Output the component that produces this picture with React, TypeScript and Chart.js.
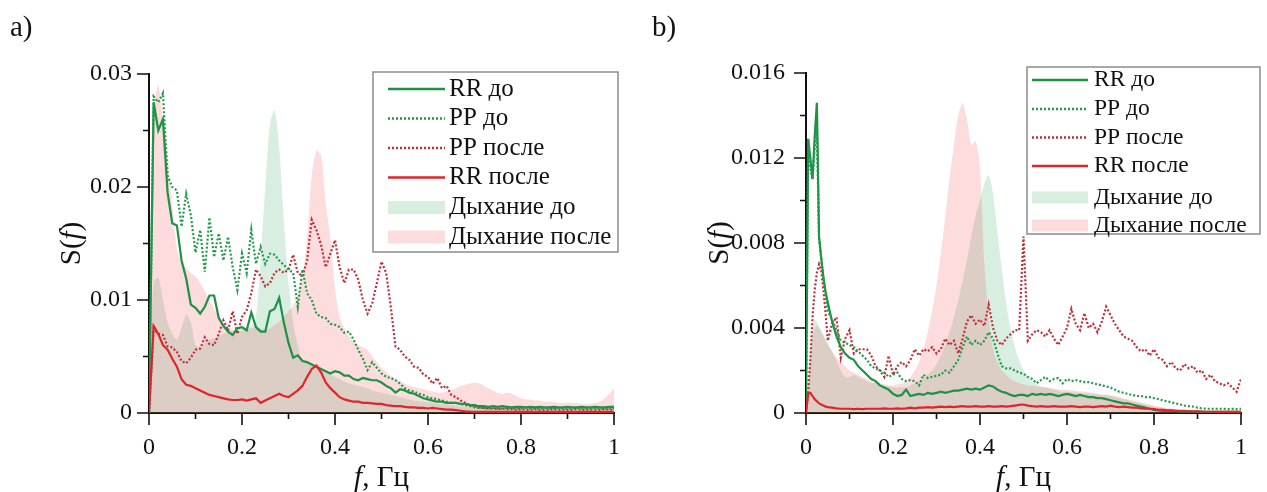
import React, { useEffect, useRef } from "react";
import { Chart, registerables } from "chart.js";

Chart.register(...registerables);

const SERIF = '"Liberation Serif", "Times New Roman", serif';

// ---------- labels ----------
const seriesLabels = ["RR до", "PP до", "PP после", "RR после", "Дыхание до", "Дыхание после"];
const xTicks = [0, 0.2, 0.4, 0.6, 0.8, 1];
const xTickLabels = ["0", "0.2", "0.4", "0.6", "0.8", "1"];
const xMinor = [0.1, 0.3, 0.5, 0.7, 0.9];
// y values are stored in units of 1e-3
const yTicksA = [0, 10, 20, 30];
const yTickLabelsA = ["0", "0.01", "0.02", "0.03"];
const yMinorA = [5, 15, 25];
const yTicksB = [0, 4, 8, 12, 16];
const yTickLabelsB = ["0", "0.004", "0.008", "0.012", "0.016"];
const yMinorB = [2, 6, 10, 14];

// ---------- panel a (frequency grid, Hz) ----------
const freqA = Array.from({ length: 101 }, (_, i) => i / 100);

const rrBeforeA = [
  0, 27.5, 25.0, 26.0, 19.5, 16.8, 16.6, 13.5, 11.9, 9.6,
  9.3, 8.8, 9.4, 10.4, 10.4, 8.4, 7.7, 7.2, 6.9, 7.5,
  7.6, 7.3, 8.9, 7.6, 7.2, 7.2, 9.0, 9.2, 10.2, 8.0,
  6.2, 4.9, 5.1, 4.6, 4.5, 4.3, 4.1, 3.9, 3.7, 3.5,
  3.7, 3.6, 3.3, 3.3, 3.0, 2.9, 3.1, 3.0, 2.9, 2.9,
  2.7, 2.4, 2.2, 1.8, 2.1, 2.0, 1.8, 1.7, 1.5, 1.3,
  1.2, 1.1, 1.0, 1.0, 0.9, 0.9, 0.9, 0.8, 0.8, 0.7,
  0.7, 0.6, 0.6, 0.55, 0.6, 0.55, 0.6, 0.55, 0.5, 0.55,
  0.55, 0.5, 0.55, 0.5, 0.55, 0.5, 0.5, 0.55, 0.5, 0.5,
  0.55, 0.5, 0.5, 0.55, 0.5, 0.5, 0.55, 0.5, 0.5, 0.55, 0.55,
];
const ppBeforeA = [
  0, 28.0, 27.5, 28.3, 21.0, 20.0, 19.7, 16.5, 19.4, 17.5,
  14.2, 16.2, 12.5, 17.3, 13.8, 15.9, 13.5, 15.6, 12.9, 10.9,
  14.1, 12.4, 16.2, 13.2, 14.7, 13.2, 14.1, 14.0, 13.5, 13.1,
  12.7, 12.4, 9.4, 12.7, 10.6, 10.0, 8.8, 8.5, 8.4, 7.9,
  7.8, 7.6, 7.1, 7.2, 6.5, 5.6, 4.8, 3.8, 4.5, 4.0,
  3.5, 3.2, 3.1, 2.9, 2.6, 2.2, 2.0, 1.9, 1.7, 1.6,
  1.4, 1.3, 1.2, 1.1, 1.0, 0.9, 0.9, 0.8, 0.7, 0.6,
  0.5, 0.45, 0.45, 0.4, 0.45, 0.4, 0.4, 0.45, 0.4, 0.4,
  0.4, 0.45, 0.4, 0.4, 0.4, 0.45, 0.4, 0.4, 0.45, 0.4,
  0.4, 0.4, 0.45, 0.4, 0.4, 0.4, 0.45, 0.4, 0.4, 0.4, 0.4,
];
const ppAfterA = [
  0, 7.5, 7.0, 6.9, 5.9, 5.8, 5.4, 4.6, 4.4, 4.9,
  5.6, 5.7, 6.7, 6.1, 6.0, 7.0, 8.2, 7.3, 9.0, 7.0,
  8.5, 9.1, 10.6, 12.7, 12.1, 11.2, 11.5, 12.4, 12.7, 12.4,
  12.7, 14.0, 12.4, 12.1, 13.5, 17.1, 16.2, 14.9, 12.9, 14.1,
  15.3, 12.9, 11.5, 12.7, 12.7, 11.8, 10.0, 8.8, 9.7, 11.5,
  13.4, 12.4, 9.4, 5.9, 5.6, 5.0, 4.7, 4.1, 4.0, 3.4,
  3.2, 2.6, 3.1, 2.2, 2.4, 1.6, 1.4, 1.1, 0.9, 0.7,
  0.6, 0.5, 0.45, 0.4, 0.4, 0.35, 0.4, 0.35, 0.35, 0.3,
  0.35, 0.3, 0.3, 0.35, 0.3, 0.3, 0.3, 0.35, 0.3, 0.3,
  0.3, 0.3, 0.35, 0.3, 0.3, 0.3, 0.3, 0.3, 0.35, 0.3, 0.3,
];
const rrAfterA = [
  0, 7.7, 7.0, 6.0, 5.6, 4.8, 4.1, 3.0, 2.5, 2.4,
  2.2, 2.0, 1.8, 1.6, 1.5, 1.4, 1.3, 1.2, 1.15, 1.15,
  1.2, 1.1, 1.2, 1.3, 0.9, 1.1, 1.3, 1.5, 1.7, 1.5,
  1.4, 1.7, 2.0, 2.4, 3.2, 3.9, 4.2, 3.6, 2.7, 2.2,
  1.8, 1.4, 1.2, 1.1, 1.0, 1.0, 0.9, 0.9, 0.85, 0.8,
  0.8, 0.7, 0.65, 0.6, 0.6, 0.55, 0.5, 0.5, 0.45, 0.45,
  0.4, 0.45, 0.4, 0.35, 0.3, 0.3, 0.25, 0.2, 0.15, 0.12,
  0.1, 0.1, 0.1, 0.1, 0.1, 0.1, 0.1, 0.1, 0.1, 0.1,
  0.1, 0.1, 0.1, 0.1, 0.1, 0.1, 0.1, 0.1, 0.1, 0.1,
  0.1, 0.1, 0.1, 0.1, 0.1, 0.1, 0.1, 0.1, 0.1, 0.1, 0.1,
];
const breathBeforeA = [
  4, 11.5, 12.0, 10.0, 8.0, 7.0, 6.5, 7.5, 8.7, 8.0,
  6.0, 5.8, 6.2, 6.5, 6.6, 6.8, 7.0, 7.2, 7.3, 7.5,
  7.5, 7.6, 7.7, 8.5, 13.5, 20.0, 25.5, 26.8, 23.5, 17.0,
  11.5, 8.0, 6.0, 4.6, 4.4, 4.2, 4.0, 3.8, 3.6, 3.4,
  3.2, 3.0, 2.8, 2.6, 2.5, 2.4, 2.3, 2.2, 2.0, 1.9,
  1.8, 1.7, 1.6, 1.5, 1.4, 1.3, 1.2, 1.1, 1.05, 1.0,
  0.95, 0.9, 0.85, 0.8, 0.75, 0.7, 0.65, 0.6, 0.55, 0.5,
  0.5, 0.5, 0.48, 0.48, 0.46, 0.46, 0.45, 0.45, 0.44, 0.44,
  0.43, 0.43, 0.42, 0.42, 0.41, 0.41, 0.4, 0.4, 0.4, 0.4,
  0.4, 0.4, 0.4, 0.4, 0.4, 0.4, 0.4, 0.4, 0.4, 0.4, 0.4,
];
const breathAfterA = [
  5, 27.0, 29.0, 26.0, 22.5, 18.5, 14.5, 13.3, 12.8, 12.4,
  12.1, 11.5, 10.8, 10.0, 9.2, 8.6, 7.9, 7.5, 7.3, 7.2,
  7.3, 7.4, 7.5, 7.6, 7.5, 7.4, 7.5, 7.8, 8.1, 8.5,
  9.0, 9.5, 10.5, 12.0, 15.5, 21.0, 23.2, 22.8, 18.5, 15.5,
  11.0, 8.5, 7.5, 6.8, 6.3, 6.0, 5.8, 5.6, 5.0, 4.5,
  4.0, 3.6, 3.3, 3.0, 2.8, 2.6, 2.4, 2.3, 2.2, 2.1,
  2.0, 1.9, 1.8, 1.8, 1.9, 2.0, 2.2, 2.4, 2.5, 2.6,
  2.7, 2.6, 2.4, 2.2, 2.0, 1.8, 1.7, 1.8, 1.7, 1.5,
  1.3, 1.2, 1.2, 1.1, 1.1, 1.0, 1.0, 1.0, 0.9, 0.9,
  0.9, 0.9, 0.9, 0.8, 0.8, 0.8, 0.9, 1.0, 1.3, 1.7, 2.2,
];

// ---------- panel b (frequency grid, Hz; finer near 0) ----------
const freqBLow = [0, 0.005, 0.01, 0.015, 0.02, 0.025, 0.03, 0.035, 0.04, 0.045];
const freqB = freqBLow.concat(Array.from({ length: 96 }, (_, i) => (i + 5) / 100));

const rrBeforeB = [
  0, 12.9, 12.0, 11.0, 13.0, 14.6, 8.3, 7.3, 6.4, 5.7,
  5.2, 4.3, 3.6, 3.1, 2.8, 2.6, 2.5, 2.2, 2.0, 1.8,
  1.6, 1.5, 1.3, 1.2, 1.1, 0.9, 0.8, 0.85, 1.1, 0.8,
  0.85, 0.9, 0.85, 0.95, 0.9, 0.95, 1.0, 0.95, 1.0, 1.05,
  1.05, 1.1, 1.15, 1.1, 1.15, 1.1, 1.2, 1.3, 1.25, 1.1,
  1.0, 0.95, 0.85, 0.8, 0.85, 0.85, 0.8, 0.9, 0.85, 0.9,
  0.85, 0.9, 0.85, 0.8, 0.85, 0.9, 0.85, 0.8, 0.85, 0.8,
  0.75, 0.75, 0.7, 0.7, 0.65, 0.6, 0.55, 0.5, 0.45, 0.45,
  0.4, 0.35, 0.3, 0.25, 0.2, 0.15, 0.12, 0.1, 0.1, 0.1,
  0.1, 0.08, 0.08, 0.08, 0.07, 0.07, 0.06, 0.06, 0.06, 0.05,
  0.05, 0.05, 0.05, 0.05, 0.05, 0.05,
];
const ppBeforeB = [
  0, 12.9, 11.5, 11.0, 12.5, 13.5, 8.2, 7.3, 6.2, 5.6,
  4.8, 4.4, 3.9, 3.4, 3.3, 3.2, 3.1, 2.9, 2.7, 2.5,
  2.2, 2.1, 2.0, 1.9, 1.7, 1.8, 1.9, 1.6, 1.5, 1.55,
  1.5, 1.3, 1.8, 1.65, 1.7, 1.75, 1.8, 2.0, 1.9, 2.2,
  2.5, 3.1, 3.6, 3.2, 3.4, 3.2, 3.4, 3.8, 3.5, 2.8,
  2.2, 2.1, 2.1, 2.0, 1.9, 1.85, 1.7, 1.6, 1.4, 1.55,
  1.7, 1.5, 1.6, 1.65, 1.4, 1.6, 1.5, 1.55, 1.5, 1.45,
  1.45, 1.4, 1.35, 1.3, 1.25, 1.2, 1.1, 1.0, 0.95, 0.9,
  0.85, 0.8, 0.8, 0.75, 0.75, 0.7, 0.65, 0.6, 0.55, 0.5,
  0.45, 0.4, 0.35, 0.32, 0.3, 0.25, 0.22, 0.2, 0.2, 0.2,
  0.2, 0.2, 0.18, 0.2, 0.18, 0.2,
];
const ppAfterB = [
  0, 1.0, 2.5, 4.5, 5.8, 6.6, 7.0, 6.7, 5.8, 4.7,
  3.4, 4.2, 4.5, 2.6, 3.5, 3.9, 2.8, 3.0, 3.0, 3.0,
  2.7, 2.2, 2.0, 1.7, 2.7, 1.8, 2.2, 2.4, 2.2, 2.5,
  3.0, 2.7, 3.0, 2.9, 3.1, 2.8, 3.0, 3.5, 3.2, 3.4,
  2.8, 3.5, 4.3, 4.6, 4.2, 4.4, 4.1, 5.1, 4.0, 3.4,
  3.2, 3.5, 3.7, 3.9, 3.9, 8.3, 3.4, 3.7, 3.9, 3.8,
  3.6, 3.9, 3.5, 3.2, 3.6, 4.0, 4.9, 4.2, 3.9, 4.7,
  4.0, 4.2, 3.8, 4.3, 5.0, 4.6, 4.2, 3.9, 3.6, 3.5,
  3.4, 3.1, 2.9, 3.0, 2.7, 3.0, 2.6, 2.5, 2.2, 2.4,
  2.1, 2.0, 2.3, 2.1, 2.2, 1.9, 2.0, 1.6, 1.8, 1.5,
  1.4, 1.3, 1.4, 1.2, 1.0, 1.6,
];
const rrAfterB = [
  0, 0.9, 0.95, 0.8, 0.65, 0.55, 0.45, 0.4, 0.35, 0.3,
  0.28, 0.25, 0.22, 0.2, 0.2, 0.2, 0.18, 0.2, 0.18, 0.2,
  0.2, 0.2, 0.2, 0.22, 0.2, 0.2, 0.22, 0.2, 0.22, 0.25,
  0.22, 0.25, 0.25, 0.28, 0.25, 0.28, 0.3, 0.28, 0.3, 0.28,
  0.3, 0.32, 0.3, 0.3, 0.32, 0.3, 0.3, 0.32, 0.3, 0.3,
  0.32, 0.3, 0.32, 0.35, 0.38, 0.4, 0.35, 0.32, 0.3, 0.32,
  0.3, 0.3, 0.32, 0.3, 0.3, 0.3, 0.32, 0.3, 0.28, 0.3,
  0.3, 0.28, 0.3, 0.32, 0.3, 0.35, 0.3, 0.28, 0.3, 0.28,
  0.25, 0.25, 0.22, 0.2, 0.2, 0.18, 0.15, 0.15, 0.12, 0.12,
  0.1, 0.1, 0.1, 0.08, 0.08, 0.08, 0.07, 0.06, 0.06, 0.06,
  0.05, 0.05, 0.05, 0.05, 0.05, 0.05,
];
const breathBeforeB = [
  0, 1.5, 3.0, 4.0, 4.4, 4.3, 4.1, 3.9, 3.7, 3.5,
  3.3, 2.9, 2.5, 2.0, 1.7, 1.7, 1.8, 1.7, 1.6, 1.5,
  1.4, 1.4, 1.3, 1.3, 1.25, 1.2, 1.2, 1.2, 1.2, 1.3,
  1.4, 1.5, 1.6, 1.8, 2.0, 2.3, 2.7, 3.2, 3.8, 4.5,
  5.3, 6.2, 7.2, 8.3, 9.3, 10.0, 10.8, 11.2, 10.3, 8.5,
  6.8, 5.2, 4.0, 3.1, 2.5, 2.0, 1.7, 1.5, 1.35, 1.25,
  1.2, 1.15, 1.1, 1.05, 1.0, 1.0, 0.98, 0.96, 0.94, 0.92,
  0.9, 0.88, 0.86, 0.84, 0.82, 0.8, 0.75, 0.7, 0.65, 0.6,
  0.55, 0.5, 0.45, 0.4, 0.35, 0.3, 0.27, 0.24, 0.2, 0.18,
  0.15, 0.13, 0.11, 0.1, 0.09, 0.08, 0.07, 0.06, 0.06, 0.05,
  0.05, 0.05, 0.05, 0.05, 0.05, 0.05,
];
const breathAfterB = [
  0, 1.0, 2.5, 3.5, 4.0, 4.1, 4.0, 3.8, 3.6, 3.4,
  3.2, 2.9, 2.6, 2.4, 2.2, 2.0, 1.9, 1.8, 1.7, 1.6,
  1.5, 1.45, 1.4, 1.35, 1.3, 1.3, 1.35, 1.4, 1.5, 1.7,
  2.0, 2.4, 3.0, 3.8, 4.8, 6.0, 7.5, 9.2, 11.0, 12.6,
  14.0, 14.6, 13.8, 12.6, 12.8, 11.5, 7.0, 4.5, 3.0, 2.4,
  2.0, 1.8, 1.6, 1.5, 1.4, 1.35, 1.3, 1.28, 1.25, 1.22,
  1.2, 1.18, 1.15, 1.12, 1.1, 1.1, 1.08, 1.05, 1.02, 1.0,
  0.98, 0.95, 0.92, 0.9, 0.88, 0.85, 0.8, 0.75, 0.7, 0.65,
  0.6, 0.55, 0.5, 0.45, 0.4, 0.35, 0.3, 0.27, 0.24, 0.2,
  0.18, 0.15, 0.13, 0.11, 0.1, 0.09, 0.08, 0.07, 0.06, 0.05,
  0.05, 0.05, 0.05, 0.05, 0.05, 0.05,
];

// ---------- styles ----------
const GREEN = "#1d9145";
const GREEN_DOT = "#239a4a";
const RED = "#e0242a";
const RED_DOT = "#c42c38";
const GREEN_FILL = "rgba(40,165,95,0.19)";
const PINK_FILL = "rgba(240,80,80,0.2)";

type Panel = {
  tag: string;
  W: number;
  H: number;
  area: { left: number; right: number; top: number; bottom: number };
  freq: number[];
  series: number[][];
  yMax: number;
  yTicks: number[];
  yTickLabels: string[];
  yMinor: number[];
  yPad: number;
  tagX: number;
  yTitleX: number;
  legend: { x0: number; y0: number; x1: number; y1: number; sx0: number; sx1: number; tx: number; rows: number[]; rectH: number; font: number };
};

const panelA: Panel = {
  tag: "a)",
  W: 640,
  H: 492,
  area: { left: 149, right: 614, top: 74, bottom: 413 },
  freq: freqA,
  series: [rrBeforeA, ppBeforeA, ppAfterA, rrAfterA, breathBeforeA, breathAfterA],
  yMax: 30,
  yTicks: yTicksA,
  yTickLabels: yTickLabelsA,
  yMinor: yMinorA,
  yPad: 17,
  tagX: 10,
  yTitleX: 72,
  legend: { x0: 373, y0: 72, x1: 618, y1: 252, sx0: 388, sx1: 445, tx: 449, rows: [89, 118.5, 148, 177.5, 207.5, 237], rectH: 13, font: 25 },
};

const panelB: Panel = {
  tag: "b)",
  W: 627,
  H: 492,
  area: { left: 166, right: 621, top: 73, bottom: 413 },
  freq: freqB,
  series: [rrBeforeB, ppBeforeB, ppAfterB, rrAfterB, breathBeforeB, breathAfterB],
  yMax: 16,
  yTicks: yTicksB,
  yTickLabels: yTickLabelsB,
  yMinor: yMinorB,
  yPad: 21,
  tagX: 12,
  yTitleX: 80,
  legend: { x0: 387, y0: 67, x1: 620, y1: 234, sx0: 392, sx1: 448, tx: 454, rows: [80, 109, 137.5, 166, 197.5, 225.5], rectH: 12, font: 23.5 },
};

function drawMixed(ctx: CanvasRenderingContext2D, parts: { t: string; i: boolean }[], x: number, y: number, size: number) {
  const fonts = parts.map((p) => `${p.i ? "italic " : ""}${size}px ${SERIF}`);
  const widths = parts.map((p, k) => {
    ctx.font = fonts[k];
    return ctx.measureText(p.t).width;
  });
  const total = widths.reduce((a, b) => a + b, 0);
  let cx = x - total / 2;
  ctx.textAlign = "left";
  parts.forEach((p, k) => {
    ctx.font = fonts[k];
    ctx.fillText(p.t, cx, y);
    cx += widths[k];
  });
}

function buildConfig(p: Panel): any {
  const xy = (vals: number[]) => p.freq.map((f, i) => ({ x: f, y: vals[i] }));
  const [rrB, ppB, ppA, rrA, brB, brA] = p.series;
  const datasets = [
    { label: seriesLabels[0], data: xy(rrB), borderColor: GREEN, borderWidth: 2.2, order: 2 },
    { label: seriesLabels[1], data: xy(ppB), borderColor: GREEN_DOT, borderWidth: 2.2, borderDash: [2, 2], order: 1 },
    { label: seriesLabels[2], data: xy(ppA), borderColor: RED_DOT, borderWidth: 2.2, borderDash: [2, 2], order: 3 },
    { label: seriesLabels[3], data: xy(rrA), borderColor: RED, borderWidth: 2.2, order: 0 },
    { label: seriesLabels[4], data: xy(brB), borderColor: "rgba(0,0,0,0)", borderWidth: 0, backgroundColor: GREEN_FILL, fill: "origin", tension: 0.25, order: 6 },
    { label: seriesLabels[5], data: xy(brA), borderColor: "rgba(0,0,0,0)", borderWidth: 0, backgroundColor: PINK_FILL, fill: "origin", tension: 0.25, order: 5 },
  ].map((d: any) => ({ pointRadius: 0, pointHoverRadius: 0, tension: 0, fill: false, ...d }));

  const decor = {
    id: "decor",
    afterDraw(chart: any) {
      const ctx: CanvasRenderingContext2D = chart.ctx;
      const xs = chart.scales.x;
      const ys = chart.scales.y;
      const { left, bottom, right, top } = chart.chartArea;
      ctx.save();
      ctx.setLineDash([]);
      ctx.strokeStyle = "#111";
      ctx.lineWidth = 1.6;
      ctx.beginPath();
      xTicks.forEach((v) => {
        const px = xs.getPixelForValue(v);
        ctx.moveTo(px, bottom);
        ctx.lineTo(px, bottom + 12);
      });
      xMinor.forEach((v) => {
        const px = xs.getPixelForValue(v);
        ctx.moveTo(px, bottom);
        ctx.lineTo(px, bottom + 6);
      });
      p.yTicks.forEach((v) => {
        const py = ys.getPixelForValue(v);
        ctx.moveTo(left - 12, py);
        ctx.lineTo(left, py);
      });
      p.yMinor.forEach((v) => {
        const py = ys.getPixelForValue(v);
        ctx.moveTo(left - 6, py);
        ctx.lineTo(left, py);
      });
      ctx.stroke();

      // axis titles
      ctx.fillStyle = "#111";
      ctx.textBaseline = "alphabetic";
      drawMixed(ctx, [{ t: "f", i: true }, { t: ", Гц", i: false }], (left + right) / 2, 486, 29);
      ctx.save();
      ctx.translate(p.yTitleX, (top + bottom) / 2);
      ctx.rotate(-Math.PI / 2);
      ctx.textBaseline = "middle";
      drawMixed(ctx, [{ t: "S(", i: false }, { t: "f", i: true }, { t: ")", i: false }], 0, 0, 29);
      ctx.restore();

      // panel tag
      ctx.font = `29px ${SERIF}`;
      ctx.textAlign = "left";
      ctx.textBaseline = "alphabetic";
      ctx.fillText(p.tag, p.tagX, 36);

      // legend
      const L = p.legend;
      ctx.fillStyle = "#fff";
      ctx.fillRect(L.x0, L.y0, L.x1 - L.x0, L.y1 - L.y0);
      ctx.strokeStyle = "#8c8c8c";
      ctx.lineWidth = 1.5;
      ctx.strokeRect(L.x0, L.y0, L.x1 - L.x0, L.y1 - L.y0);
      chart.data.datasets.forEach((d: any, k: number) => {
        const y = L.rows[k];
        if (d.fill === "origin") {
          ctx.fillStyle = d.backgroundColor;
          ctx.fillRect(L.sx0, y - L.rectH / 2, L.sx1 - L.sx0, L.rectH);
        } else {
          ctx.strokeStyle = d.borderColor;
          ctx.lineWidth = 2.4;
          ctx.setLineDash(d.borderDash || []);
          ctx.beginPath();
          ctx.moveTo(L.sx0, y);
          ctx.lineTo(L.sx1, y);
          ctx.stroke();
          ctx.setLineDash([]);
        }
        ctx.fillStyle = "#111";
        ctx.font = `${L.font}px ${SERIF}`;
        ctx.textAlign = "left";
        ctx.textBaseline = "middle";
        ctx.fillText(d.label, L.tx, y);
      });
      ctx.restore();
    },
  };

  const tickFont = { family: SERIF, size: 24 };
  return {
    type: "line",
    data: { datasets },
    plugins: [decor],
    options: {
      responsive: false,
      animation: false,
      devicePixelRatio: 1,
      events: [],
      layout: { padding: { left: 0, top: p.area.top, right: p.W - p.area.right, bottom: 0 } },
      plugins: { legend: { display: false }, tooltip: { enabled: false }, title: { display: false } },
      scales: {
        x: {
          type: "linear",
          min: 0,
          max: 1,
          afterFit: (s: any) => {
            s.height = p.H - p.area.bottom;
          },
          afterBuildTicks: (s: any) => {
            s.ticks = xTicks.map((v) => ({ value: v }));
          },
          grid: { display: false, drawTicks: false },
          border: { display: true, color: "#111", width: 2 },
          ticks: {
            padding: 20,
            color: "#111",
            font: tickFont,
            maxRotation: 0,
            autoSkip: false,
            callback: (_v: any, i: number) => xTickLabels[i],
          },
        },
        y: {
          type: "linear",
          min: 0,
          max: p.yMax,
          afterFit: (s: any) => {
            s.width = p.area.left;
          },
          afterBuildTicks: (s: any) => {
            s.ticks = p.yTicks.map((v) => ({ value: v }));
          },
          grid: { display: false, drawTicks: false },
          border: { display: true, color: "#111", width: 2 },
          ticks: {
            padding: p.yPad,
            color: "#111",
            font: tickFont,
            autoSkip: false,
            callback: (_v: any, i: number) => p.yTickLabels[i],
          },
        },
      },
    },
  };
}

function PanelChart({ p, left }: { p: Panel; left: number }) {
  const ref = useRef<HTMLCanvasElement | null>(null);
  useEffect(() => {
    if (!ref.current) return;
    const chart = new Chart(ref.current, buildConfig(p));
    return () => chart.destroy();
  }, [p]);
  return (
    <canvas
      ref={ref}
      width={p.W}
      height={p.H}
      style={{ position: "absolute", left, top: 0, width: p.W, height: p.H }}
    />
  );
}

export default function App() {
  return (
    <div style={{ position: "absolute", left: 0, top: 0, width: 1267, height: 492, background: "#fff", overflow: "hidden" }}>
      <PanelChart p={panelA} left={0} />
      <PanelChart p={panelB} left={640} />
    </div>
  );
}
